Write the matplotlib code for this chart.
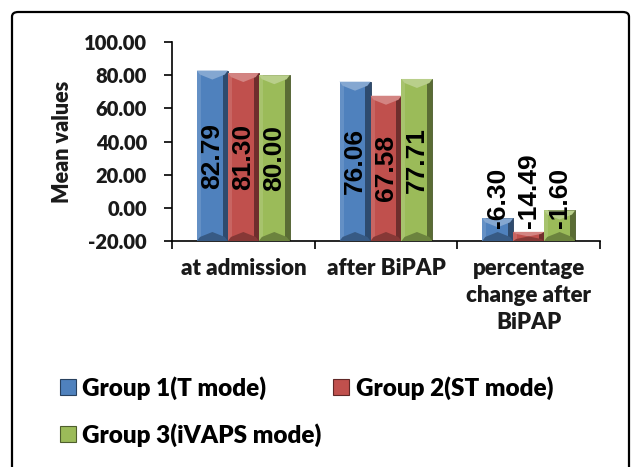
import matplotlib
matplotlib.use("Agg")
import matplotlib.pyplot as plt
import numpy as np
from matplotlib.patches import Polygon, FancyBboxPatch
from matplotlib.lines import Line2D
import matplotlib.colors as mcolors

categories = ["at admission", "after BiPAP", "percentage\nchange after\nBiPAP"]
series_names = ["Group 1(T mode)", "Group 2(ST mode)", "Group 3(iVAPS mode)"]
group1 = [82.79, 76.06, -6.30]
group2 = [81.30, 67.58, -14.49]
group3 = [80.00, 77.71, -1.60]
colors = ["#4F81BD", "#C0504D", "#9BBB59"]
yticks = [-20, 0, 20, 40, 60, 80, 100]

W, H = 634, 467
fig = plt.figure(figsize=(W / 100, H / 100), dpi=100)
ax = fig.add_axes([172 / W, 1 - 241 / H, (600 - 172) / W, (241 - 42) / H])

base = -20
width = 0.217
offsets = [-width, 0, width]
x = np.arange(len(categories))
label_font = dict(family=["Liberation Sans Narrow", "Liberation Sans"], fontweight="bold", fontsize=19)

all_series = [group1, group2, group3]
ax.set_xlim(-0.5, 2.5)
ax.set_ylim(-20, 100)
fig.canvas.draw()

def shade(c, f):
    r, g, b = mcolors.to_rgb(c)
    if f >= 0:
        return (r + (1 - r) * f, g + (1 - g) * f, b + (1 - b) * f)
    return (r * (1 + f), g * (1 + f), b * (1 + f))

px_x = (ax.transData.transform((1, 0))[0] - ax.transData.transform((0, 0))[0])
px_y = (ax.transData.transform((0, 1))[1] - ax.transData.transform((0, 0))[1])
sx = 4 / px_x
vy = 9 / px_y

def poly(pts, fc):
    ax.add_patch(Polygon(pts, closed=True, facecolor=fc, edgecolor="none", zorder=3))

for vals, off, col in zip(all_series, offsets, colors):
    heights = [v - base for v in vals]
    bars = ax.bar(x + off, heights, width, bottom=base, color=col, edgecolor=shade(col, -0.55),
                  linewidth=0.6, zorder=2)
    for b, v in zip(bars, vals):
        x0, y0 = b.get_x(), b.get_y()
        x1, y1 = x0 + b.get_width(), y0 + b.get_height()
        cx = (x0 + x1) / 2
        dy = min(vy, (y1 - y0) / 2)
        # side strips
        poly([(x0, y0), (x0, y1), (x0 + sx, y1), (x0 + sx, y0)], shade(col, 0.12))
        poly([(x1, y0), (x1, y1), (x1 - 1.3 * sx, y1), (x1 - 1.3 * sx, y0)], shade(col, -0.42))
        # top V (light) and bottom inverted V (dark)
        poly([(x0, y1), (x1, y1), (x1 - 0.1 * width, y1 - 0.45 * dy), (cx, y1 - dy), (x0 + 0.1 * width, y1 - 0.45 * dy)],
             shade(col, 0.3))
        poly([(x0, y0), (x1, y0), (x1 - 0.1 * width, y0 + 0.45 * dy), (cx, y0 + dy), (x0 + 0.1 * width, y0 + 0.45 * dy)],
             shade(col, -0.3))
        if v > 20:
            ax.text(cx, (y0 + y1) / 2, f"{v:.2f}", rotation=90, ha="center", va="center",
                    zorder=5, **label_font)
        else:
            ax.text(cx, -12, f"{v:.2f}", rotation=90, ha="center", va="bottom",
                    zorder=5, **label_font)

tick_font = dict(family=["Lato", "DejaVu Sans"], fontweight=800)
ax.set_yticks(yticks)
ax.set_yticklabels([f"{t:.2f}" for t in yticks], fontsize=14.5, color="#1a1a1a", **tick_font)
ax.set_xticks([-0.5, 0.5, 1.5, 2.5])
ax.set_xticklabels([])
ax.tick_params(axis="both", direction="out", length=6, width=1.2, color="black")
ax.tick_params(axis="y", pad=12)
for s in ["top", "right"]:
    ax.spines[s].set_visible(False)
for s in ["left", "bottom"]:
    ax.spines[s].set_linewidth(1.2)
ax.set_ylabel("Mean values", fontsize=15.5, color="#1a1a1a", labelpad=8, **tick_font)

for xi, cat in zip(x, categories):
    ax.text(xi, -30.5, cat, ha="center", va="top", fontsize=16, color="#1a1a1a",
            linespacing=1.33, **tick_font)

order = [0, 2, 1]
handles = [Line2D([], [], marker="s", linestyle="none", markersize=11,
                  markerfacecolor=colors[i], markeredgecolor=shade(colors[i], -0.5), markeredgewidth=0.8)
           for i in order]
labels = [series_names[i] for i in order]
leg = fig.legend(handles, labels, loc="upper left", bbox_to_anchor=(60 / W, 1 - 376 / H),
                 ncol=2, frameon=False, prop=dict(family=["Lato", "DejaVu Sans"], weight=800, size=17.5),
                 handlelength=0.62, handletextpad=0.3, columnspacing=0.5, labelspacing=0.97,
                 borderpad=0, borderaxespad=0, labelcolor="black")

fig.patches.append(FancyBboxPatch((12 / W, -0.1), (629 - 12) / W, 1.1 - 12 / H,
                                  boxstyle="round,pad=0,rounding_size=0.01", transform=fig.transFigure,
                                  facecolor="none", edgecolor="black", linewidth=1.6))

fig.savefig("out.png", dpi=100)
